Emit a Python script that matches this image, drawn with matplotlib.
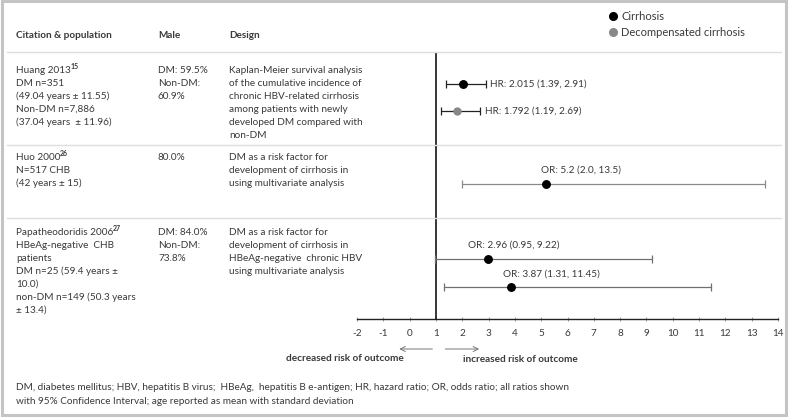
import matplotlib
matplotlib.use("Agg")
import matplotlib.pyplot as plt
from matplotlib.lines import Line2D
from matplotlib.patches import Rectangle

# ---------------- data ----------------
est_labels = ["HR: 2.015 (1.39, 2.91)", "HR: 1.792 (1.19, 2.69)",
              "OR: 5.2 (2.0, 13.5)", "OR: 2.96 (0.95, 9.22)", "OR: 3.87 (1.31, 11.45)"]
estimates = [2.015, 1.792, 5.2, 2.96, 3.87]
ci_low = [1.39, 1.19, 2.0, 0.95, 1.31]
ci_high = [2.91, 2.69, 13.5, 9.22, 11.45]
outcome = ["Cirrhosis", "Decompensated cirrhosis", "Cirrhosis", "Cirrhosis", "Cirrhosis"]
x_ticks = list(range(-2, 15))

headers = ["Citation & population", "Male", "Design"]
study_names = ["Huang 2013", "Huo 2000", "Papatheodoridis 2006"]
study_refs = ["15", "26", "27"]
population = [
    ["DM n=351", "(49.04 years ± 11.55)", "Non-DM n=7,886", "(37.04 years  ± 11.96)"],
    ["N=517 CHB", "(42 years ± 15)"],
    ["HBeAg-negative  CHB", "patients", "DM n=25 (59.4 years ±",
     "10.0)", "non-DM n=149 (50.3 years", "± 13.4)"],
]
male = [
    ["DM: 59.5%", "Non-DM:", "60.9%"],
    ["80.0%"],
    ["DM: 84.0%", "Non-DM:", "73.8%"],
]
design = [
    ["Kaplan-Meier survival analysis", "of the cumulative incidence of", "chronic HBV-related cirrhosis",
     "among patients with newly", "developed DM compared with", "non-DM"],
    ["DM as a risk factor for", "development of cirrhosis in", "using multivariate analysis"],
    ["DM as a risk factor for", "development of cirrhosis in", "HBeAg-negative  chronic HBV",
     "using multivariate analysis"],
]
footnote = ["DM, diabetes mellitus; HBV, hepatitis B virus;  HBeAg,  hepatitis B e-antigen; HR, hazard ratio; OR, odds ratio; all ratios shown",
            "with 95% Confidence Interval; age reported as mean with standard deviation"]
arrow_labels = ["decreased risk of outcome", "increased risk of outcome"]

# ---------------- layout / style ----------------
W, H = 790, 417
FONT = "Lato"
plt.rcParams["font.family"] = [FONT, "DejaVu Sans"]
TXT = "#3a3a3a"
FS = 7.2
BL = 3.3  # baseline offset below visual centre (px)

fig = plt.figure(figsize=(W / 100, H / 100), dpi=100)
fig.patch.set_facecolor("white")
renderer = fig.canvas.get_renderer()


def fx(x):
    return x / W


def fy(y):
    return 1 - y / H


def put(x, y, s, **kw):
    return fig.text(fx(x), fy(y + BL), s, fontsize=kw.pop("fontsize", FS), color=TXT,
                    va="baseline", ha=kw.pop("ha", "left"), **kw)


# outer frame
fig.add_artist(Rectangle((fx(1.5), fy(414.5)), fx(786) - fx(1.5), fy(0.5) - fy(414.5),
                         transform=fig.transFigure, fill=False, edgecolor="#c4c4c4", lw=2.2))

# header
for txt, x in zip(headers, [16, 158, 229]):
    put(x, 35, txt, fontweight="bold")

# separators
for y in [52, 145, 218]:
    fig.add_artist(Line2D([fx(7), fx(781)], [fy(y), fy(y)], transform=fig.transFigure,
                          color="#dedede", lw=1.0))

# table text
row_top = [70, 157, 232]
step = 12.9
for r in range(3):
    t = put(16, row_top[r], study_names[r])
    bb = t.get_window_extent(renderer)
    xr = bb.x1 - 0.5
    fig.text(fx(xr), fy(row_top[r] + BL - 4.0), study_refs[r], fontsize=FS * 0.7,
             color=TXT, va="baseline", ha="left", fontweight="bold")
    for i, line in enumerate(population[r]):
        put(16, row_top[r] + (i + 1) * step, line)
    for col, x in zip([male, design], [158, 229]):
        for i, line in enumerate(col[r]):
            put(x, row_top[r] + i * step, line)

# footnote
for i, line in enumerate(footnote):
    put(16, 387 + i * 14, line)

# forest axes: x from -2 (px 357) to 14 (px 778), y from 52 to 319 px
ax = fig.add_axes([fx(357), fy(319), fx(778) - fx(357), fy(52) - fy(319)])
ax.set_xlim(-2, 14)
ax.set_ylim(319, 52)
ax.patch.set_alpha(0)
for s in ["top", "right", "left"]:
    ax.spines[s].set_visible(False)
ax.spines["bottom"].set_color("#222222")
ax.spines["bottom"].set_linewidth(1.0)
ax.set_yticks([])
ax.set_xticks(x_ticks)
ax.set_xticklabels([str(t) for t in x_ticks])
ax.tick_params(axis="x", direction="inout", length=3, width=0.6, color="#888888",
               labelsize=FS, labelcolor=TXT, pad=6)
ax.axvline(1, color="black", lw=1.1)

row_y = [84, 111, 184, 259, 287]
dot_colors = {"Cirrhosis": "black", "Decompensated cirrhosis": "#888888"}
line_colors = ["#222222", "#222222", "#8a8a8a", "#707070", "#707070"]
msizes = [5.4, 5.0, 5.4, 5.4, 5.4]
label_offsets = [(None, 0), (None, 0), (-4, 7), (-14, 7), (-6, 6)]

for i in range(len(estimates)):
    e, lo, hi, y = estimates[i], ci_low[i], ci_high[i], row_y[i]
    ax.errorbar([e], [y], xerr=[[e - lo], [hi - e]], fmt="o", color=dot_colors[outcome[i]],
                ecolor=line_colors[i], elinewidth=0.9, capsize=2.8, capthick=0.9,
                markersize=msizes[i], zorder=3)
    dx, dy = label_offsets[i]
    if dx is None:
        ax.annotate(est_labels[i], (hi, y), xytext=(3, 0), textcoords="offset points",
                    fontsize=FS, color=TXT, va="center", ha="left")
    else:
        ax.annotate(est_labels[i], (e, y), xytext=(dx, dy), textcoords="offset points",
                    fontsize=FS, color=TXT, va="bottom", ha="left")

# direction arrows below axis
ax.annotate("", xy=(-0.5, 349), xytext=(0.97, 349), xycoords="data", annotation_clip=False,
            arrowprops=dict(arrowstyle="->", color="#777777", lw=0.7, mutation_scale=9))
ax.annotate("", xy=(2.75, 349), xytext=(1.25, 349), xycoords="data", annotation_clip=False,
            arrowprops=dict(arrowstyle="->", color="#777777", lw=0.7, mutation_scale=9))
put(345, 358, arrow_labels[0], fontweight="bold", ha="center")
put(463, 359, arrow_labels[1], fontweight="bold")

# legend
handles = [Line2D([], [], marker="o", ls="", color="black", markersize=5.5, label="Cirrhosis"),
           Line2D([], [], marker="o", ls="", color="#888888", markersize=5.5,
                  label="Decompensated cirrhosis")]
fig.legend(handles=handles, loc="upper left", bbox_to_anchor=(fx(604), fy(5)), frameon=False,
           fontsize=8.0, handlelength=0.6, handletextpad=0.45, labelspacing=0.45,
           borderpad=0, labelcolor=TXT)

fig.savefig("out.png", dpi=100, facecolor="white")
